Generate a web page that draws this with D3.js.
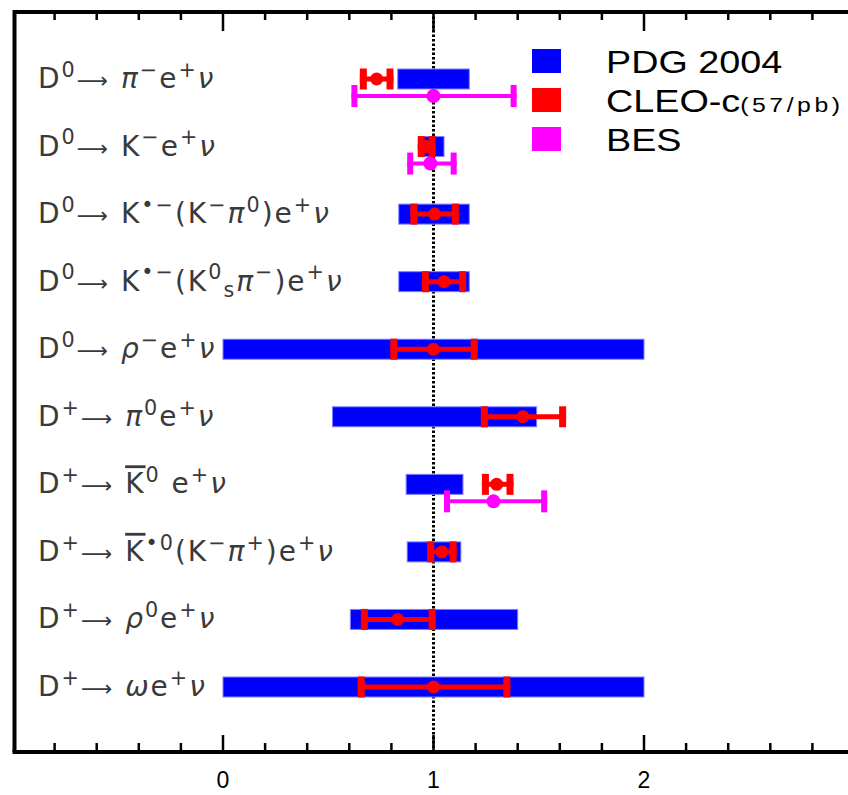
<html>

<head>
    <script src="https://cdnjs.cloudflare.com/ajax/libs/d3/7.8.5/d3.min.js"></script>
    <style>
        body { margin: 0; background: #fff; }
    </style>
</head>

<body>

<svg width="848" height="795"/>

<script>
    // decay channels, top to bottom (^{} sup, _{} sub, \bar{} overline)
    const channels = [
        "D^{0}→ π^{−}e^{+}ν",
        "D^{0}→ K^{−}e^{+}ν",
        "D^{0}→ K^{•−}(K^{−}π^{0})e^{+}ν",
        "D^{0}→ K^{•−}(K^{0}_{s}π^{−})e^{+}ν",
        "D^{0}→ ρ^{−}e^{+}ν",
        "D^{+}→ π^{0}e^{+}ν",
        "D^{+}→ \\bar{K}^{0} e^{+}ν",
        "D^{+}→ \\bar{K}^{•0}(K^{−}π^{+})e^{+}ν",
        "D^{+}→ ρ^{0}e^{+}ν",
        "D^{+}→ ωe^{+}ν"
    ];

    // PDG 2004 ranges (ratio to PDG)
    const pdgLow  = [0.83, 0.95, 0.835, 0.835, 0.0, 0.52, 0.87, 0.875, 0.605, 0.0];
    const pdgHigh = [1.17, 1.05, 1.17, 1.17, 2.0, 1.49, 1.14, 1.13, 1.40, 2.0];

    // CLEO-c (57/pb)
    const cleoVal  = [0.73, 0.965, 1.005, 1.05, 1.0, 1.425, 1.30, 1.04, 0.83, 1.0];
    const cleoLow  = [0.65, 0.925, 0.89, 0.945, 0.795, 1.225, 1.23, 0.97, 0.655, 0.64];
    const cleoHigh = [0.81, 1.01, 1.12, 1.155, 1.21, 1.63, 1.38, 1.11, 1.01, 1.365];

    // BES
    const besVal  = [1.0, 0.985, null, null, null, null, 1.285, null, null, null];
    const besLow  = [0.61, 0.875, null, null, null, null, 1.05, null, null, null];
    const besHigh = [1.395, 1.11, null, null, null, null, 1.54, null, null, null];

    const legendNames = ["PDG 2004", "CLEO-c", "BES"];
    const legendColors = ["#0000ff", "#ff0000", "#ff00ff"];

    const majorTicks = [0, 1, 2];
    const minorTicks = d3.range(-8, 31, 2).map(d => d / 10);

    const svg = d3.select("svg");

    const x = d3.scaleLinear().domain([-1, 3]).range([12.5, 854.5]);
    const y = d3.scalePoint().domain(channels).range([79, 687]);

    const yTop = 12, yBottom = 752;

    // reference line at 1
    svg.append("line")
        .attr("x1", x(1)).attr("x2", x(1))
        .attr("y1", yTop).attr("y2", yBottom)
        .attr("stroke", "black")
        .attr("stroke-width", 3)
        .attr("stroke-dasharray", "2.5,2");

    // PDG bars
    svg.append("g")
        .selectAll("rect")
        .data(channels)
        .enter()
        .append("rect")
        .attr("x", (d, i) => x(pdgLow[i]))
        .attr("width", (d, i) => x(pdgHigh[i]) - x(pdgLow[i]))
        .attr("y", d => y(d) - 10)
        .attr("height", 20)
        .attr("fill", "#0000ff")
        .attr("stroke", "#8080ff")
        .attr("stroke-width", 1);

    // error bars
    function errorBars(vals, lows, highs, dy, color, lw, capW, capH, r) {
        const data = channels.map((c, i) => ({c, v: vals[i], lo: lows[i], hi: highs[i]}))
            .filter(d => d.v !== null);
        const g = svg.append("g");
        g.selectAll("line.bar")
            .data(data).enter().append("line")
            .attr("x1", d => x(d.lo)).attr("x2", d => x(d.hi))
            .attr("y1", d => y(d.c) + dy).attr("y2", d => y(d.c) + dy)
            .attr("stroke", color).attr("stroke-width", lw);
        ["lo", "hi"].forEach(k => {
            g.selectAll("rect.cap" + k)
                .data(data).enter().append("rect")
                .attr("x", d => x(d[k]) - (k === "lo" ? 0 : capW))
                .attr("width", capW)
                .attr("y", d => y(d.c) + dy - capH / 2)
                .attr("height", capH)
                .attr("fill", color);
        });
        g.selectAll("circle")
            .data(data).enter().append("circle")
            .attr("cx", d => x(d.v))
            .attr("cy", d => y(d.c) + dy)
            .attr("r", r)
            .attr("fill", color);
    }

    errorBars(cleoVal, cleoLow, cleoHigh, 0, "#ff0000", 5, 7, 21, 6.5);
    errorBars(besVal, besLow, besHigh, 17, "#ff00ff", 4, 6, 22, 7);

    // frame
    svg.append("path")
        .attr("d", `M${x(-1) + 2},${yBottom} L${x(-1) + 2},${yTop} L860,${yTop}`)
        .attr("fill", "none")
        .attr("stroke", "black")
        .attr("stroke-width", 4);
    svg.append("line")
        .attr("x1", x(-1)).attr("x2", 860)
        .attr("y1", yBottom).attr("y2", yBottom)
        .attr("stroke", "black")
        .attr("stroke-width", 4);

    // ticks, bottom (pointing up) and top (pointing down)
    const isMajor = d => majorTicks.includes(Math.round(d * 10) / 10);
    svg.append("g")
        .selectAll("line")
        .data(minorTicks)
        .enter()
        .append("line")
        .attr("x1", d => x(d)).attr("x2", d => x(d))
        .attr("y1", yBottom)
        .attr("y2", d => yBottom - (isMajor(d) ? 17 : 9))
        .attr("stroke", "black")
        .attr("stroke-width", 2.5);
    svg.append("g")
        .selectAll("line")
        .data(minorTicks)
        .enter()
        .append("line")
        .attr("x1", d => x(d)).attr("x2", d => x(d))
        .attr("y1", yTop)
        .attr("y2", d => yTop + (isMajor(d) ? 19 : 8))
        .attr("stroke", "black")
        .attr("stroke-width", 2.5);

    svg.append("g")
        .selectAll("text")
        .data(majorTicks)
        .enter()
        .append("text")
        .attr("x", d => x(d))
        .attr("y", 788)
        .attr("text-anchor", "middle")
        .attr("font-family", "Liberation Sans, Arial, sans-serif")
        .attr("font-size", 23)
        .text(d => d);

    // channel labels
    function parse(str) {
        const re = /\\bar\{([^}]*)\}|\^\{([^}]*)\}|_\{([^}]*)\}|([^\\^_]+)/g;
        const out = [];
        let m;
        while ((m = re.exec(str)) !== null) {
            if (m[1] !== undefined) out.push({t: m[1], mode: "n", bar: true});
            else if (m[2] !== undefined) out.push({t: m[2], mode: "sup"});
            else if (m[3] !== undefined) out.push({t: m[3], mode: "sub"});
            else out.push({t: m[4], mode: "n"});
        }
        return out;
    }

    const fs = 28;
    channels.forEach(c => {
        const t = svg.append("text")
            .attr("x", 38)
            .attr("y", y(c) + 9)
            .attr("font-family", "DejaVu Sans, Verdana, sans-serif")
            .attr("font-size", fs)
            .attr("letter-spacing", 2)
            .attr("fill", "#3a3a3a");
        let shift = 0;
        parse(c).forEach(seg => {
            const target = seg.mode === "sup" ? -0.40 * fs : seg.mode === "sub" ? 0.22 * fs : 0;
            // split greek letters (italic) and the arrow (long, thin)
            seg.t.split(/([α-ω]|→)/).filter(s => s.length).forEach((s, j) => {
                const ts = t.append("tspan")
                    .attr("dy", j === 0 ? target - shift : 0)
                    .attr("font-size", seg.mode === "n" ? fs : fs * 0.74)
                    .text(s);
                if (/[α-ω]/.test(s)) ts.attr("font-style", "italic");
                if (s === "→") ts.text("⟶").attr("font-size", fs * 0.78);
                if (seg.bar) ts.attr("text-decoration", "overline");
            });
            shift = target;
        });
    });

    // legend
    const leg = svg.append("g");
    leg.selectAll("rect")
        .data(legendNames)
        .enter()
        .append("rect")
        .attr("x", 532)
        .attr("y", (d, i) => 49 + i * 39)
        .attr("width", 29)
        .attr("height", 24)
        .attr("fill", (d, i) => legendColors[i]);
    leg.selectAll("text")
        .data(legendNames)
        .enter()
        .append("text")
        .attr("transform", (d, i) => `translate(606,${73 + i * 39}) scale(1.18,1)`)
        .attr("font-family", "Liberation Sans, Arial, sans-serif")
        .attr("font-size", 32)
        .attr("fill", "black")
        .text(d => d)
        .filter((d, i) => i === 1)
        .append("tspan")
        .attr("font-size", 21)
        .attr("letter-spacing", 3)
        .text("(57/pb)");
</script>

</body>

</html>
